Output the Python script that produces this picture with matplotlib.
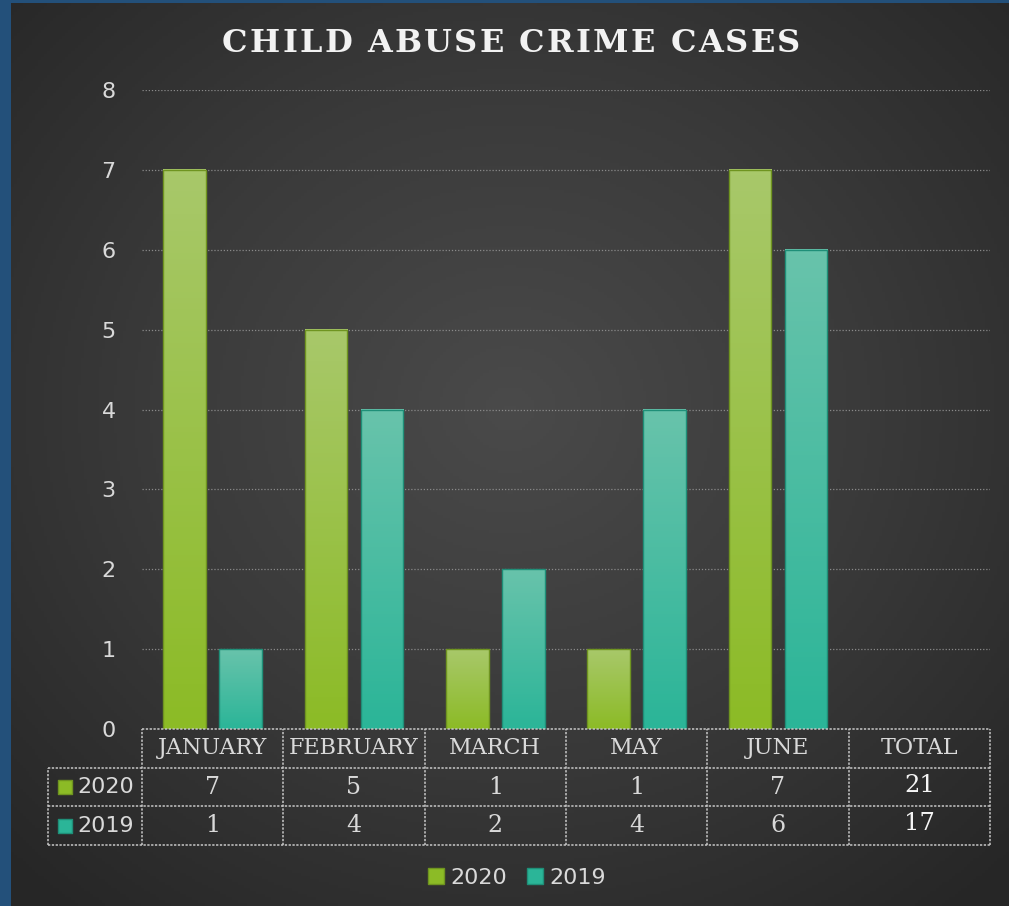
import numpy as np
import matplotlib
matplotlib.use("Agg")
import matplotlib.pyplot as plt
from matplotlib.colors import LinearSegmentedColormap
from matplotlib.patches import Patch

# --- Data ---
months = ["JANUARY", "FEBRUARY", "MARCH", "MAY", "JUNE"]
cases_2020 = [7, 5, 1, 1, 7]
cases_2019 = [1, 4, 2, 4, 6]
columns = months + ["TOTAL"]
series = ["2020", "2019"]
title = "CHILD ABUSE CRIME CASES"

# --- Colours ---
green_top, green_bot, green_edge = "#a8c86a", "#8cbb26", "#6f9420"
teal_top, teal_bot, teal_edge = "#68c3ab", "#2bb598", "#1f8f78"
text_col = "#d9d9d9"
grid_col = "#8a8a8a"

W, H = 1009, 906
fig = plt.figure(figsize=(W / 100, H / 100), dpi=100)
fig.patch.set_facecolor("#23507a")

# dark panel with a soft radial glow
bg = fig.add_axes([11 / W, 0, 1 - 11 / W, 1 - 3 / H])
yy, xx = np.mgrid[0:1:300j, 0:1:330j]
r = np.sqrt((xx - 0.5) ** 2 + (yy - 0.45) ** 2)
bg_cmap = LinearSegmentedColormap.from_list("bg", ["#4a4a4a", "#3a3a3a", "#262626"])
bg.imshow(np.clip(r / 0.72, 0, 1), cmap=bg_cmap, aspect="auto", extent=[0, 1, 0, 1])
bg.axis("off")

# title with a little extra letter spacing, one glyph at a time
renderer = fig.canvas.get_renderer()
tkw = dict(family="DejaVu Serif", weight="bold", fontsize=23, color="#f2f2f2")

def text_w(s):
    t = fig.text(0, 0, s, **tkw)
    w = t.get_window_extent(renderer).width
    t.remove()
    return w

full_w = text_w(title)
track = max(0, (578 - full_w) / (len(title) - 1))
x0 = 511 - (full_w + track * (len(title) - 1)) / 2
for k, ch in enumerate(title):
    if ch == " ":
        continue
    xk = x0 + text_w(title[:k + 1]) - text_w(ch) + k * track
    fig.text(xk / W, 1 - 44 / H, ch, ha="left", va="center", **tkw)

# --- Bars ---
ax = fig.add_axes([142 / W, (H - 729) / H, 848 / W, 639 / H])
ax.set_facecolor("none")
x = np.arange(len(months))
width, off = 0.304, 0.198
b20 = ax.bar(x - off, cases_2020, width, color="none", edgecolor=green_edge, lw=1, zorder=3)
b19 = ax.bar(x + off, cases_2019, width, color="none", edgecolor=teal_edge, lw=1, zorder=3)

grad = np.linspace(0, 1, 100).reshape(-1, 1)
for bars, top, bot in [(b20, green_top, green_bot), (b19, teal_top, teal_bot)]:
    cm = LinearSegmentedColormap.from_list("g", [top, bot])
    for p in bars:
        ax.imshow(grad, cmap=cm, aspect="auto", zorder=2,
                  extent=[p.get_x(), p.get_x() + p.get_width(), 0, p.get_height()])

ax.set_xlim(-0.5, len(columns) - 0.5)
ax.set_ylim(0, 8)
ax.set_yticks(range(0, 9))
ax.set_xticks([])
ax.tick_params(axis="y", length=0, pad=19, labelsize=16, labelcolor=text_col)
ax.grid(axis="y", color=grid_col, ls=(0, (1, 1.5)), lw=0.9, zorder=1)
for s in ax.spines.values():
    s.set_visible(False)

# --- Data table ---
px = 848 / len(columns)
left = -0.5 - 94 / px
tax = fig.add_axes([48 / W, (H - 845) / H, 942 / W, 116 / H])
tax.set_xlim(left, len(columns) - 0.5)
tax.set_ylim(0, 3)
tax.axis("off")
lk = dict(color="#c8c8c8", lw=1.1, ls=(0, (1.5, 1)), clip_on=False)
tax.plot([-0.5, len(columns) - 0.5], [3, 3], **lk)
for yv in [2, 1, 0]:
    tax.plot([left, len(columns) - 0.5], [yv, yv], **lk)
for k in range(len(columns) + 1):
    tax.plot([k - 0.5, k - 0.5], [0, 3], **lk)
tax.plot([left, left], [0, 2], **lk)

for i, c in enumerate(columns):
    tax.text(i, 2.5, c, ha="center", va="center", family="DejaVu Serif",
             fontsize=16, color=text_col)

rows = [cases_2020, cases_2019]
colors = [(green_bot, green_edge), (teal_bot, teal_edge)]
for j, (name, vals, (fc, ec)) in enumerate(zip(series, rows, colors)):
    yc = 1.5 - j
    tax.scatter([left + 17 / px], [yc], marker="s", s=95, color=fc, edgecolor=ec,
                lw=1, clip_on=False)
    tax.text(left + 29 / px, yc, name, ha="left", va="center", fontsize=16, color=text_col)
    for i, v in enumerate(vals):
        tax.text(i, yc, str(v), ha="center", va="center", family="DejaVu Serif",
                 fontsize=17, color=text_col)
    tax.text(len(months), yc + 0.05, str(sum(vals)), ha="center", va="center",
             family="DejaVu Serif", fontsize=17.5, color="#f5f5f5")

# --- Legend ---
handles = [Patch(facecolor=green_bot, edgecolor=green_edge),
           Patch(facecolor=teal_bot, edgecolor=teal_edge)]
fig.legend(handles, series, loc="center", bbox_to_anchor=(517 / W, 1 - 878 / H),
           ncol=2, frameon=False, fontsize=16, labelcolor=text_col,
           handlelength=0.7, handleheight=0.7, handletextpad=0.3, columnspacing=0.9)

fig.savefig("out.png", dpi=100, facecolor=fig.get_facecolor())
